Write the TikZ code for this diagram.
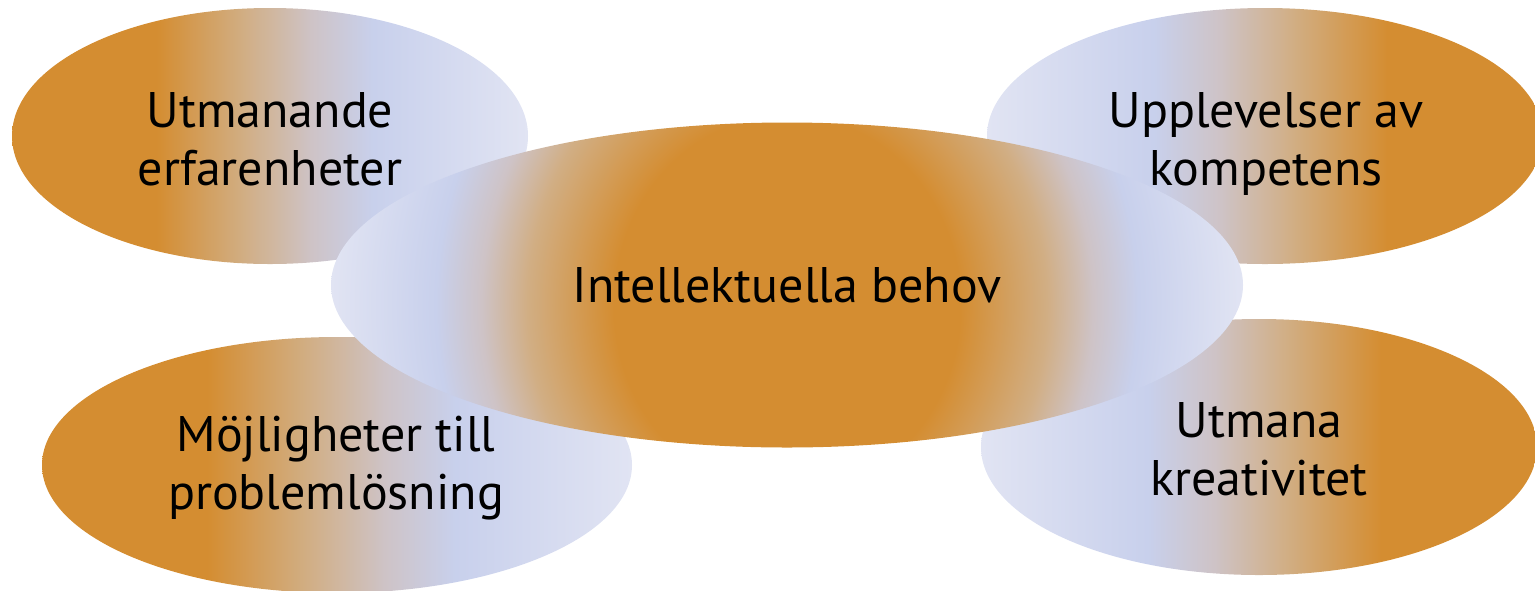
\documentclass[tikz,border=0pt]{standalone}
\usepackage{fontspec}
\setmainfont{PT Sans}
\usetikzlibrary{shapes.geometric}

% palette
\definecolor{orng}{RGB}{212,141,49}
\definecolor{tanc}{RGB}{209,174,132}
\definecolor{grayc}{RGB}{206,195,198}
\definecolor{lavc}{RGB}{200,208,236}
\definecolor{lavl}{RGB}{225,228,243}

% orange on the left fading into lavender on the right
\pgfdeclarehorizontalshading{sideshade}{100bp}{color(0bp)=(orng); color(39bp)=(orng);
  color(47.5bp)=(tanc); color(54bp)=(grayc); color(60bp)=(lavc); color(75bp)=(lavl); color(100bp)=(lavl)}
% orange core spreading out to lavender
\pgfdeclareradialshading{coreradial}{\pgfpoint{0bp}{0bp}}{color(0bp)=(orng); color(9.5bp)=(orng);
  color(14.25bp)=(tanc); color(16.75bp)=(grayc); color(19.25bp)=(lavc); color(25bp)=(lavl);
  color(50bp)=(lavl)}

\tikzset{
  blob/.style={ellipse, inner sep=0pt, draw=none, shade, shading=sideshade},
  blobflip/.style={blob, shading angle=180},
  core/.style={ellipse, inner sep=0pt, draw=none,
    path picture={\shade[shading=coreradial]
      ([xshift=-228pt, yshift=-260pt]path picture bounding box.center) rectangle
      ([xshift=228pt, yshift=240pt]path picture bounding box.center);}},
  caption/.style={align=center, inner sep=0pt, text=black,
    font=\fontsize{25}{29}\selectfont}
}

\begin{document}
\begin{tikzpicture}[x=0.5pt, y=-0.5pt]
  \useasboundingbox (0,0) rectangle (1535,590);
  \clip (0,0) rectangle (1535,590);

  % outer ellipses
  \node[blob,     minimum width=258pt, minimum height=128pt] (tl) at (270,136) {};
  \node[blobflip, minimum width=278pt, minimum height=128pt] (tr) at (1265,136) {};
  \node[blob,     minimum width=295pt, minimum height=128pt] (bl) at (337,465) {};
  \node[blobflip, minimum width=278pt, minimum height=128pt] (br) at (1259,447) {};

  % central ellipse on top
  \node[core, minimum width=456pt, minimum height=162.5pt] (mid) at (787,285) {};

  % labels
  \node[caption] (tltext) at (270,145) {Utmanande\strut\\erfarenheter\strut};
  \node[caption] (trtext) at (1266,145) {Upplevelser av\strut\\kompetens\strut};
  \node[caption] (bltext) at (336,469) {Möjligheter till\strut\\problemlösning\strut};
  \node[caption] (brtext) at (1259,455) {Utmana\strut\\kreativitet\strut};
  \node[caption] (midtext) at (787,291) {Intellektuella behov\strut};
\end{tikzpicture}
\end{document}
